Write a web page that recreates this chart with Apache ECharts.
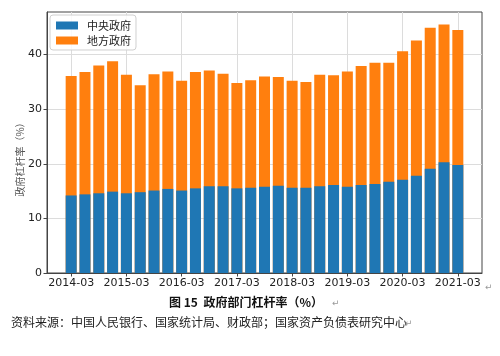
<!DOCTYPE html>
<html>
<head>
<meta charset="utf-8">
<script src="https://cdn.jsdelivr.net/npm/echarts@6/dist/echarts.min.js"></script>
<style>html,body{margin:0;padding:0;background:#fff;}#c{width:500px;height:356px;}</style>
</head>
<body>
<div id="c"></div>
<script>
const categories = ['2014-03','2014-06','2014-09','2014-12','2015-03','2015-06','2015-09','2015-12',
  '2016-03','2016-06','2016-09','2016-12','2017-03','2017-06','2017-09','2017-12',
  '2018-03','2018-06','2018-09','2018-12','2019-03','2019-06','2019-09','2019-12',
  '2020-03','2020-06','2020-09','2020-12','2021-03'];
const totalLeverage = [36.1,36.8,38.0,38.8,36.3,34.4,36.4,36.9,35.2,36.8,37.1,36.5,34.8,35.3,36.0,35.9,
  35.2,35.0,36.3,36.2,36.9,37.9,38.5,38.5,40.6,42.6,44.9,45.5,44.5];
const centralGov = [14.2,14.4,14.6,14.9,14.6,14.8,15.1,15.4,15.1,15.5,15.9,15.9,15.5,15.6,15.8,16.0,
  15.6,15.6,15.9,16.1,15.8,16.1,16.3,16.7,17.1,17.8,19.1,20.3,19.8];
const xTickIdx = [0,4,8,12,16,20,24,28];
const yTicks = [0,10,20,30,40];
const seriesNames = ['中央政府','地方政府'];

const chart = echarts.init(document.getElementById('c'), null, {renderer: 'canvas'});
const font = 'DejaVu Sans';
const cjk = '"Noto Sans CJK SC"';
chart.setOption({
  animation: false,
  backgroundColor: '#fff',
  grid: {left: 47, right: 18, top: 12, bottom: 83, show: true, borderColor: '#444', borderWidth: 1, backgroundColor: 'transparent'},
  legend: {
    left: 50, top: 15, orient: 'vertical',
    data: seriesNames, icon: 'rect', itemWidth: 22, itemHeight: 8, itemGap: 4,
    backgroundColor: 'rgba(255,255,255,0.85)', borderColor: '#d0d0d0', borderWidth: 1, borderRadius: 3,
    padding: [5, 5, 4, 6],
    textStyle: {fontFamily: cjk, fontSize: 11, color: '#222', padding: [0, 0, 0, 4]}
  },
  xAxis: {
    type: 'value', min: -1.75, max: 29.75,
    axisLine: {show: true, onZero: false, lineStyle: {color: '#444'}},
    axisTick: {show: true, length: 3.5, customValues: xTickIdx, lineStyle: {color: '#444'}},
    axisLabel: {customValues: xTickIdx, formatter: v => categories[v] || '', fontFamily: font, fontSize: 11, color: '#222', margin: 5},
    splitLine: {show: true, lineStyle: {color: '#dcdcdc', width: 1}}
  },
  yAxis: {
    type: 'value', min: 0, max: 47.8,
    axisLine: {show: true, onZero: false, lineStyle: {color: '#444'}},
    axisTick: {show: true, length: 3.5, customValues: yTicks, lineStyle: {color: '#444'}},
    axisLabel: {customValues: yTicks, fontFamily: font, fontSize: 11, color: '#222', margin: 5},
    splitLine: {show: true, lineStyle: {color: '#dcdcdc', width: 1}}
  },
  series: [
    {name: seriesNames[1], type: 'bar', barWidth: 11, barGap: '-100%', z: 2,
     itemStyle: {color: '#ff7f0e'}, data: totalLeverage.map((v, i) => [i, v])},
    {name: seriesNames[0], type: 'bar', barWidth: 11, barGap: '-100%', z: 3,
     itemStyle: {color: '#1f77b4'}, data: centralGov.map((v, i) => [i, v])}
  ],
  graphic: [
    {type: 'text', x: 20, y: 157, rotation: Math.PI / 2,
     style: {text: '政府杠杆率（%）', fontFamily: cjk, fontSize: 10, fill: '#555', align: 'center', verticalAlign: 'middle'}},
    {type: 'text', x: 485, y: 288, style: {text: '↵', fontSize: 9, fill: '#999', fontFamily: font, verticalAlign: 'middle'}},
    {type: 'text', x: 246, y: 302, style: {text: '图 15  政府部门杠杆率（%）', fontFamily: cjk, fontWeight: 'bold', fontSize: 12, fill: '#111', align: 'center', verticalAlign: 'middle'}},
    {type: 'text', x: 332, y: 304, style: {text: '↵', fontSize: 9, fill: '#999', fontFamily: font, verticalAlign: 'middle'}},
    {type: 'text', x: 11, y: 322, style: {text: '资料来源：中国人民银行、国家统计局、财政部；国家资产负债表研究中心', fontFamily: cjk, fontSize: 12, fill: '#222', verticalAlign: 'middle'}},
    {type: 'text', x: 405, y: 324, style: {text: '↵', fontSize: 9, fill: '#999', fontFamily: font, verticalAlign: 'middle'}}
  ]
});
</script>
</body>
</html>
